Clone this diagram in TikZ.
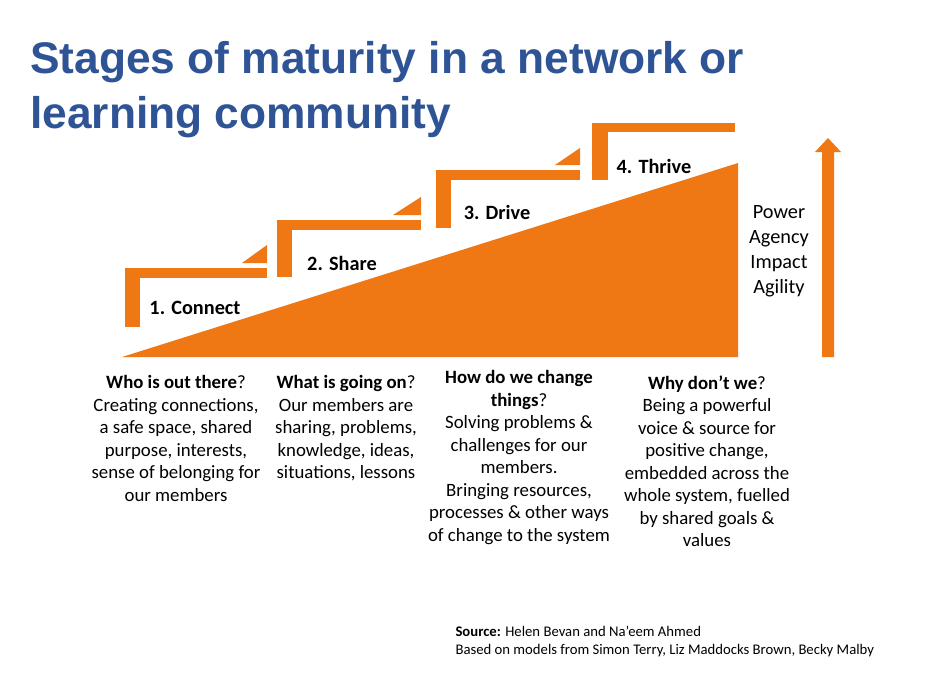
\documentclass[tikz,border=0pt]{standalone}
\usepackage{fontspec}
\setmainfont{Carlito}
\newfontfamily\titlefont{Liberation Sans}
\definecolor{org}{RGB}{240,120,20}
\definecolor{ttl}{RGB}{47,84,150}
\begin{document}
\begin{tikzpicture}[x=1pt,y=-1pt,
  stage/.style={font=\fontsize{20.3}{24}\selectfont\bfseries,anchor=center},
  desc/.style={font=\fontsize{18.8}{22.5}\selectfont,align=center,anchor=north},
  ttlstyle/.style={font=\titlefont\fontsize{44.3}{55}\selectfont\bfseries,text=ttl,anchor=west,inner sep=0}]
\useasboundingbox (0,0) rectangle (951,675);
\fill[white] (0,0) rectangle (951,675);
\node[ttlstyle] (t1) at (30,62) {Stages of maturity in a network or};
\node[ttlstyle] (t2) at (30,117) {learning community};
% ramp
\fill[org] (122,357) -- (738,357) -- (738,163) -- cycle;
% steps
\foreach \vx/\vy/\vb/\hx/\tx/\ty in {125/268/327/267/242/245, 277/220/277/421/393/197, 436/170/228/580/555/148}{
  \fill[org] (\vx,\vy) rectangle (\vx+15,\vb);
  \fill[org] (\vx,\vy) rectangle (\hx,\vy+10);
  \fill[org] (\tx,\vy-5) -- (\hx,\ty) -- (\hx,\vy-5) -- cycle;
}
\fill[org] (592,123) rectangle (608,180);
\fill[org] (592,123) rectangle (735,132);
% arrow
\fill[org] (822,357) -- (822,152) -- (815,152) -- (828,138) -- (841,152) -- (834,152) -- (834,357) -- cycle;
\node[stage] (s1) at (195,308) {1. Connect};
\node[stage] (s2) at (342,263) {2. Share};
\node[stage] (s3) at (497,212) {3. Drive};
\node[stage] (s4) at (654,166) {4. Thrive};
\node[font=\fontsize{20.3}{25}\selectfont,align=center] (pw) at (779,251) {Power\\Agency\\Impact\\Agility};
\node[desc] (d1) at (176,372) {\textbf{Who is out there}?\\Creating connections,\\a safe space, shared\\purpose, interests,\\sense of belonging for\\our members};
\node[desc] (d2) at (346,372) {\textbf{What is going on}?\\Our members are\\sharing, problems,\\knowledge, ideas,\\situations, lessons};
\node[desc] (d3) at (519,367) {\textbf{How do we change}\\\textbf{things}?\\Solving problems \&\\challenges for our\\members.\\Bringing resources,\\processes \& other ways\\of change to the system};
\node[desc] (d4) at (707,372) {\textbf{Why don’t we}?\\Being a powerful\\voice \& source for\\positive change,\\embedded across the\\whole system, fuelled\\by shared goals \&\\values};
\node[font=\fontsize{14.7}{18}\selectfont,align=left,anchor=north west] (src) at (452,623) {\textbf{Source:} Helen Bevan and Na’eem Ahmed\\Based on models from Simon Terry, Liz Maddocks Brown, Becky Malby};
\end{tikzpicture}
\end{document}
